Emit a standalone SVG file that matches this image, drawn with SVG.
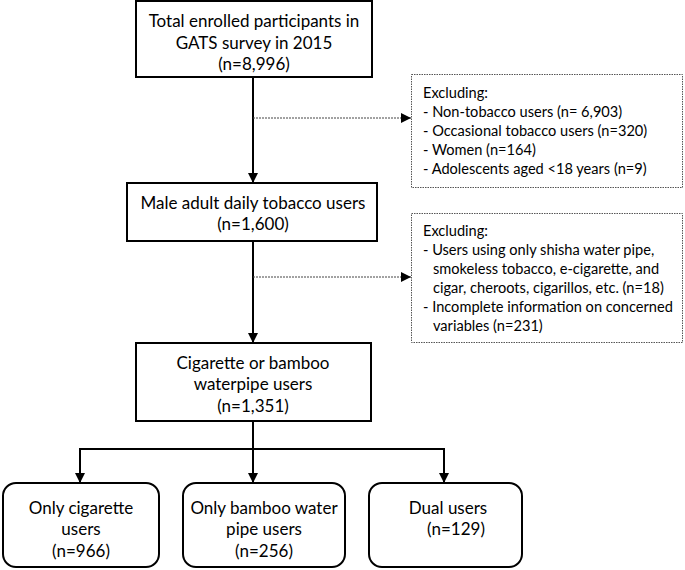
<svg xmlns="http://www.w3.org/2000/svg" width="685" height="570" viewBox="0 0 685 570">
<defs>
<style>
.box{fill:#fff;stroke:#000;stroke-width:2}
.ex{fill:#fff;stroke:#555;stroke-width:1;stroke-dasharray:1.5,1}
.t{font-family:Lato,"Liberation Sans",sans-serif;font-size:17px;fill:#000;text-anchor:middle;dominant-baseline:central}
.e{font-family:Lato,"Liberation Sans",sans-serif;font-size:14.6px;fill:#000;dominant-baseline:central}
.ln{fill:none;stroke:#000;stroke-width:2}
.dl{fill:none;stroke:#444;stroke-width:1;stroke-dasharray:2,1}
</style>
<marker id="ah" viewBox="0 0 10 10" refX="10" refY="5" markerWidth="10" markerHeight="10" markerUnits="userSpaceOnUse" orient="auto">
<path d="M0,0 L10,5 L0,10 Z" fill="#000"/>
</marker>
</defs>
<g id="connectors">
<line class="ln" x1="253" y1="77" x2="253" y2="183" marker-end="url(#ah)"/>
<line class="dl" x1="253" y1="118" x2="411" y2="118" marker-end="url(#ah)"/>
<line class="ln" x1="253" y1="241" x2="253" y2="343" marker-end="url(#ah)"/>
<line class="dl" x1="253" y1="277" x2="411" y2="277" marker-end="url(#ah)"/>
<line class="ln" x1="253" y1="421" x2="253" y2="449"/>
<line class="ln" x1="79" y1="449" x2="445" y2="449"/>
<line class="ln" x1="80" y1="449" x2="80" y2="483" marker-end="url(#ah)"/>
<line class="ln" x1="253" y1="449" x2="253" y2="483" marker-end="url(#ah)"/>
<line class="ln" x1="444" y1="449" x2="444" y2="483" marker-end="url(#ah)"/>
</g>
<g id="n1">
<rect class="box" x="136" y="1" width="236" height="76"/>
<text class="t" x="254" y="20">Total enrolled participants in</text>
<text class="t" x="254" y="42">GATS survey in 2015</text>
<text class="t" x="254" y="63">(n=8,996)</text>
</g>
<g id="x1">
<rect class="ex" x="411.5" y="74.5" width="271" height="113"/>
<text class="e" x="423" y="92">Excluding:</text>
<text class="e" x="423" y="111">- Non-tobacco users (n= 6,903)</text>
<text class="e" x="423" y="130">- Occasional tobacco users (n=320)</text>
<text class="e" x="423" y="149">- Women (n=164)</text>
<text class="e" x="423" y="168">- Adolescents aged &lt;18 years (n=9)</text>
</g>
<g id="n2">
<rect class="box" x="127" y="183" width="250" height="58"/>
<text class="t" x="253" y="202">Male adult daily tobacco users</text>
<text class="t" x="253" y="223">(n=1,600)</text>
</g>
<g id="x2">
<rect class="ex" x="411.5" y="213.5" width="271" height="129"/>
<text class="e" x="423" y="230">Excluding:</text>
<text class="e" x="423" y="249">- Users using only shisha water pipe,</text>
<text class="e" x="433" y="268">smokeless tobacco, e-cigarette, and</text>
<text class="e" x="433" y="287">cigar, cheroots, cigarillos, etc. (n=18)</text>
<text class="e" x="423" y="306">- Incomplete information on concerned</text>
<text class="e" x="433" y="325">variables (n=231)</text>
</g>
<g id="n3">
<rect class="box" x="136" y="343" width="235" height="78"/>
<text class="t" x="253" y="362">Cigarette or bamboo</text>
<text class="t" x="253" y="383">waterpipe users</text>
<text class="t" x="253" y="405">(n=1,351)</text>
</g>
<g id="n4">
<rect class="box" x="3" y="483" width="156" height="84" rx="13"/>
<text class="t" x="81" y="507">Only cigarette</text>
<text class="t" x="81" y="528">users</text>
<text class="t" x="81" y="550">(n=966)</text>
</g>
<g id="n5">
<rect class="box" x="183" y="483" width="162" height="84" rx="13"/>
<text class="t" x="264" y="507">Only bamboo water</text>
<text class="t" x="264" y="528">pipe users</text>
<text class="t" x="264" y="550">(n=256)</text>
</g>
<g id="n6">
<rect class="box" x="369" y="483" width="153" height="84" rx="13"/>
<text class="t" x="448" y="507">Dual users</text>
<text class="t" x="456" y="528">(n=129)</text>
</g>
</svg>
